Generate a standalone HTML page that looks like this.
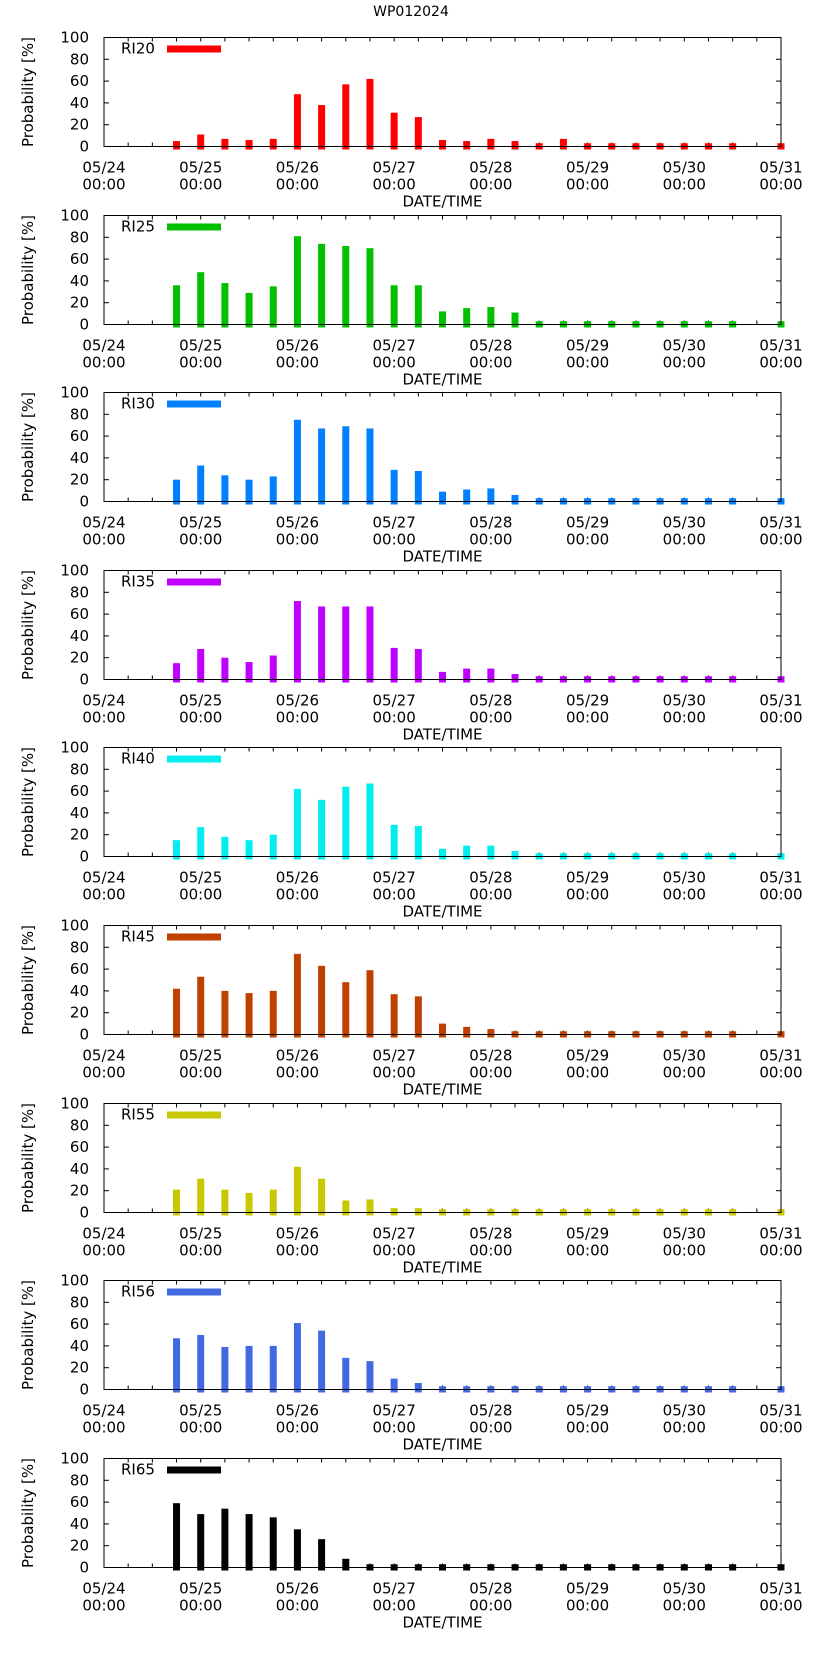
<!DOCTYPE html>
<html><head><meta charset="utf-8"><style>
body{margin:0;background:#fff;}
svg text{font-family:"DejaVu Sans","Liberation Sans",sans-serif;fill:#000;}
</style></head><body>
<svg id="chart" width="822" height="1653" xmlns="http://www.w3.org/2000/svg">
<text x="411" y="16" font-size="14" text-anchor="middle">WP012024</text>
</svg>
<script>
const seriesNames = ["RI20","RI25","RI30","RI35","RI40","RI45","RI55","RI56","RI65"];
const seriesColors = ["#ff0000","#00c000","#0080ff","#c000ff","#00eeee","#c04000","#c8c800","#4169e1","#000000"];
// bar times in hours from 05/24 00:00
const barHours = [18,24,30,36,42,48,54,60,66,72,78,84,90,96,102,108,114,120,126,132,138,144,150,156,168];
const ri20 = [5,11,7,6,7,48,38,57,62,31,27,6,5,7,5,3,7,3,3,3,3,3,3,3,3];
const ri25 = [36,48,38,29,35,81,74,72,70,36,36,12,15,16,11,3,3,3,3,3,3,3,3,3,3];
const ri30 = [20,33,24,20,23,75,67,69,67,29,28,9,11,12,6,3,3,3,3,3,3,3,3,3,3];
const ri35 = [15,28,20,16,22,72,67,67,67,29,28,7,10,10,5,3,3,3,3,3,3,3,3,3,3];
const ri40 = [15,27,18,15,20,62,52,64,67,29,28,7,10,10,5,3,3,3,3,3,3,3,3,3,3];
const ri45 = [42,53,40,38,40,74,63,48,59,37,35,10,7,5,3,3,3,3,3,3,3,3,3,3,3];
const ri55 = [21,31,21,18,21,42,31,11,12,4,4,3,3,3,3,3,3,3,3,3,3,3,3,3,3];
const ri56 = [47,50,39,40,40,61,54,29,26,10,6,3,3,3,3,3,3,3,3,3,3,3,3,3,3];
const ri65 = [59,49,54,49,46,35,26,8,3,3,3,3,3,3,3,3,3,3,3,3,3,3,3,3,3];
const allSeries = [ri20,ri25,ri30,ri35,ri40,ri45,ri55,ri56,ri65];
const xTickLabels = ["05/24","05/25","05/26","05/27","05/28","05/29","05/30","05/31"];
const yTicks = [0,20,40,60,80,100];

const NS="http://www.w3.org/2000/svg";
const svg=document.getElementById('chart');
const X0=104,X1=781,PH=109,PITCH=177.6,TOP0=37,HMAX=168;
function mk(tag,attrs,parent){const e=document.createElementNS(NS,tag);for(const k in attrs)e.setAttribute(k,attrs[k]);(parent||svg).appendChild(e);return e;}
function xs(h){return X0+(X1-X0)*h/HMAX;}

seriesNames.forEach((name,i)=>{
  const top=Math.round(TOP0+i*PITCH)+0.5, bot=top+PH;
  const ys=v=>bot-PH*v/100;
  const g=mk('g',{});
  
  
  for(let h=0;h<=HMAX;h+=6){
    const x=xs(h);
    mk('line',{x1:x,y1:bot,x2:x,y2:bot-4,stroke:'#000','stroke-width':1},g);
    mk('line',{x1:x,y1:top,x2:x,y2:top+4,stroke:'#000','stroke-width':1},g);
  }
  yTicks.forEach(v=>{
    const y=ys(v);
    mk('line',{x1:X0,y1:y,x2:X0+5,y2:y,stroke:'#000','stroke-width':1},g);
    mk('line',{x1:X1,y1:y,x2:X1-5,y2:y,stroke:'#000','stroke-width':1},g);
    const t=mk('text',{x:X0-15,y:y+5,'font-size':15,'text-anchor':'end'},g);
    t.textContent=v;
    
    
  });
  xTickLabels.forEach((lab,d)=>{
    const x=xs(d*24);
    const t1=mk('text',{x:x,y:bot+26,'font-size':15,'text-anchor':'middle'},g);
    t1.textContent=lab;
    
    
    const t2=mk('text',{x:x,y:bot+43,'font-size':15,'text-anchor':'middle'},g);
    t2.textContent='00:00';
    
    
  });
  const xt=mk('text',{x:(X0+X1)/2,y:bot+60,'font-size':15,'text-anchor':'middle'},g);
  xt.textContent='DATE/TIME';
  
  
  const yt=mk('text',{x:0,y:0,'font-size':15,'text-anchor':'middle',transform:`translate(33,${(top+bot)/2}) rotate(-90)`},g);
  yt.textContent='Probability [%]';
  
  
  allSeries[i].forEach((v,k)=>{
    const x=xs(barHours[k]);
    const r=mk('rect',{x:x-3.5,y:ys(v),width:7,height:bot+3-ys(v),fill:seriesColors[i]},g);
    
    
  });
  mk('rect',{x:X0,y:top,width:X1-X0,height:PH,fill:'none',stroke:'#000','stroke-width':1},g);
  const lt=mk('text',{x:121,y:top+16,'font-size':15},g);
  lt.textContent=name;
  
  
  const ll=mk('rect',{x:167,y:top+8,width:54,height:7,fill:seriesColors[i]},g);
  
  
});
</script>
</body></html>
